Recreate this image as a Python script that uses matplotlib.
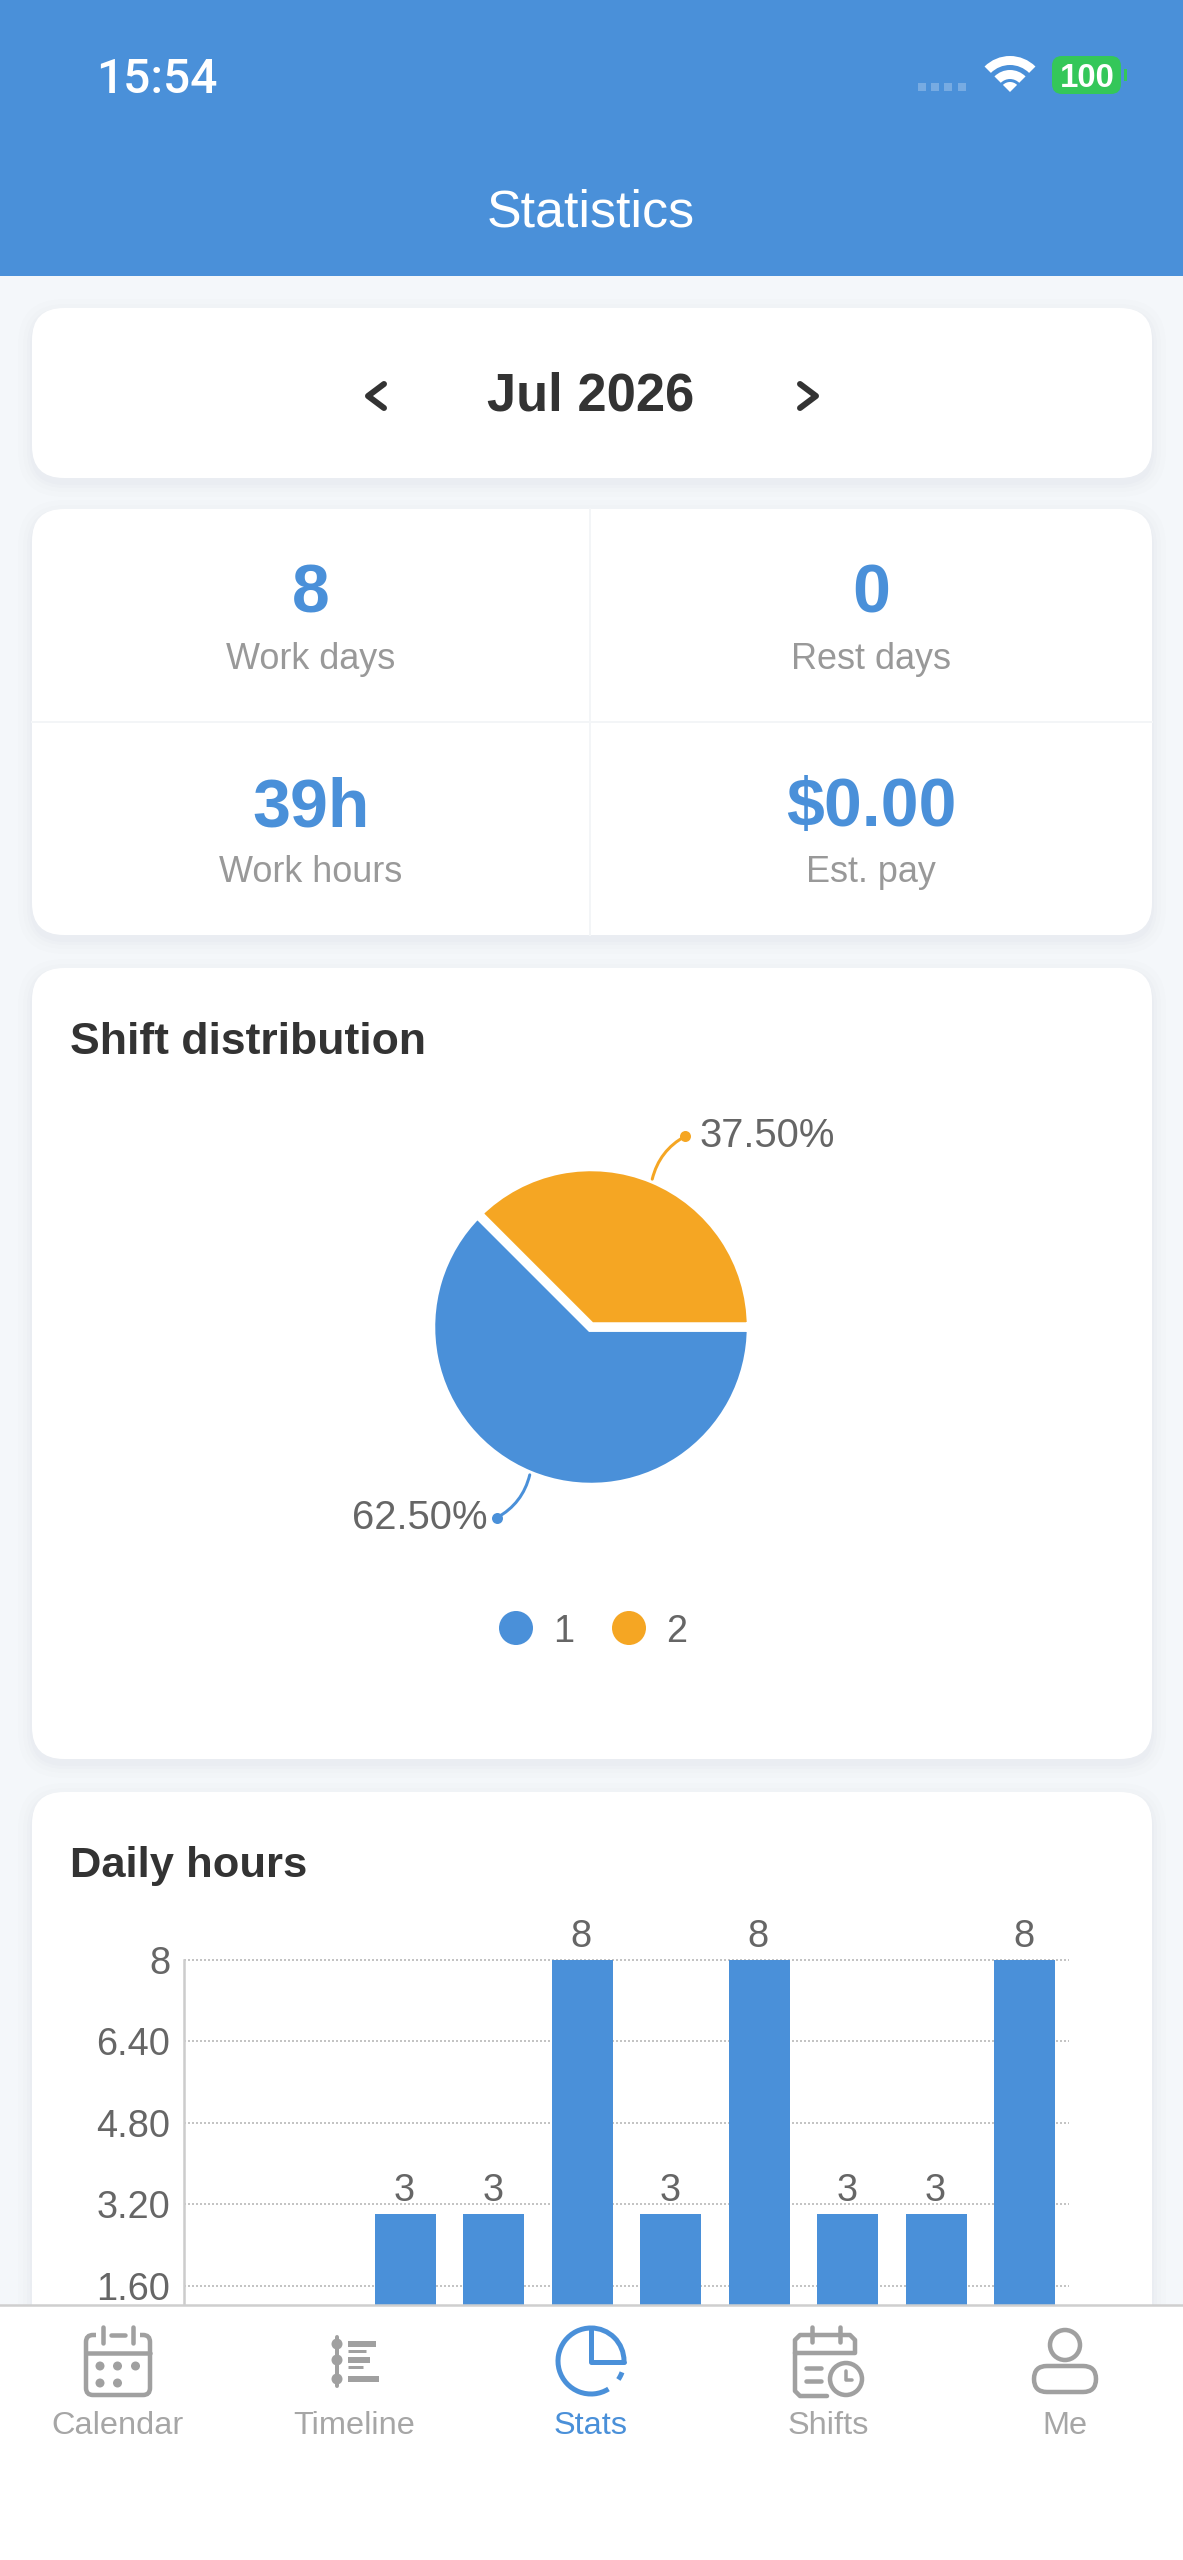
import numpy as np
import matplotlib
matplotlib.use('Agg')
import matplotlib.pyplot as plt
from matplotlib.patches import FancyBboxPatch, Circle, Rectangle, Wedge, Arc

plt.rcParams['font.family'] = ['Liberation Sans', 'DejaVu Sans']

W, H = 1183, 2560
DPI = 100

BLUE = '#4A90D9'
ORANGE = '#F5A623'
BG = '#F4F7FA'
DARK = '#333333'
GREY = '#999999'
AXIS_TEXT = '#666666'
ICON = '#A0A0A0'

# data
month = 'Jul 2026'
stat_values = ['8', '0', '39h', '$0.00']
stat_labels = ['Work days', 'Rest days', 'Work hours', 'Est. pay']
shift_names = ['1', '2']
shift_share = [62.50, 37.50]
daily_hours = [0, 0, 3, 3, 8, 3, 8, 3, 3, 8]
y_ticks = [0, 1.6, 3.2, 4.8, 6.4, 8]
y_tick_labels = ['0', '1.60', '3.20', '4.80', '6.40', '8']
tab_names = ['Calendar', 'Timeline', 'Stats', 'Shifts', 'Me']


def px(v):
    # pixels to points
    return v * 72.0 / DPI


def page_axes(z):
    a = fig.add_axes([0, 0, 1, 1], zorder=z)
    a.set_xlim(0, W)
    a.set_ylim(H, 0)
    a.axis('off')
    a.patch.set_alpha(0)
    return a


def label(a, x, y, s, size, color=DARK, ha='center', weight='normal', family=None):
    # y is the middle of the capitals
    a.text(x, y + 0.36 * size, s, fontsize=px(size), color=color, ha=ha, va='baseline', fontweight=weight,
           family=family)


def card(a, x0, y0, x1, y1, r=32):
    for grow, alpha in [(14, 0.006), (9, 0.008), (5, 0.010), (2, 0.012)]:
        a.add_patch(FancyBboxPatch((x0 - grow, y0 - grow + 5), x1 - x0 + 2 * grow, y1 - y0 + 2 * grow,
                                   boxstyle='round,pad=0,rounding_size=%d' % (r + grow),
                                   fc='#20406a', ec='none', alpha=alpha))
    a.add_patch(FancyBboxPatch((x0, y0), x1 - x0, y1 - y0, boxstyle='round,pad=0,rounding_size=%d' % r,
                               fc='white', ec='none'))


def stroke(a, xs, ys, color=ICON, lw=4.5):
    a.plot(xs, ys, color=color, lw=px(lw), solid_capstyle='round', solid_joinstyle='round')


def outline(a, x0, y0, x1, y1, r, color=ICON, lw=4.5):
    a.add_patch(FancyBboxPatch((x0, y0), x1 - x0, y1 - y0, boxstyle='round,pad=0,rounding_size=%g' % r,
                               fc='none', ec=color, lw=px(lw)))


fig = plt.figure(figsize=(W / DPI, H / DPI), dpi=DPI, facecolor=BG)

# page background, header and cards
ax = page_axes(0)
ax.add_patch(Rectangle((0, 0), W, 276, fc=BLUE, ec='none'))
card(ax, 32, 308, 1152, 478)
card(ax, 32, 509, 1152, 935)
card(ax, 32, 968, 1152, 1759)
card(ax, 32, 1792, 1152, 2700)

# status bar
label(ax, 157, 76, '15:54', 48, color='white', weight='medium', family=['Roboto', 'Liberation Sans'])
for x in [922, 935, 948, 962]:
    ax.add_patch(Rectangle((x - 4, 83), 8, 8, fc='white', ec='none', alpha=0.25))
wx, wy = 1010, 92
ax.add_patch(Wedge((wx, wy), 36, 225, 315, width=9, fc='white', ec='none'))
ax.add_patch(Wedge((wx, wy), 22, 225, 315, width=9, fc='white', ec='none'))
ax.add_patch(Wedge((wx, wy), 10, 225, 315, fc='white', ec='none'))
ax.add_patch(FancyBboxPatch((1052, 56), 69, 38, boxstyle='round,pad=0,rounding_size=10', fc='#34C759', ec='none'))
ax.add_patch(Rectangle((1124, 69), 3, 12, fc='#34C759', ec='none'))
label(ax, 1087, 75, '100', 33, color='white', weight='bold')
label(ax, 591, 208, 'Statistics', 52, color='white')

# month switcher
label(ax, 591, 392, month, 52.5, weight='bold')
stroke(ax, [384, 368, 384], [384, 396, 408], color=DARK, lw=6)
stroke(ax, [800, 816, 800], [384, 396, 408], color=DARK, lw=6)

# summary grid
ax.plot([590.5, 590.5], [509, 935], color='#F3F5F7', lw=px(2))
ax.plot([32, 1152], [722, 722], color='#F3F5F7', lw=px(2))
for i in range(4):
    cx = 311 if i % 2 == 0 else 871
    row = i // 2
    label(ax, cx, [588, 802][row], stat_values[i], 68, color=BLUE, weight='bold')
    label(ax, cx, [656, 869][row], stat_labels[i], 36, color=GREY)

label(ax, 70, 1038, 'Shift distribution', 44.5, ha='left', weight='bold')
label(ax, 70, 1861, 'Daily hours', 43.5, ha='left', weight='bold')

# pie
pie_size = 500
ax_pie = fig.add_axes([(591 - pie_size / 2) / W, 1 - (1327 + pie_size / 2) / H, pie_size / W, pie_size / H], zorder=1)
colors = [BLUE, ORANGE]
wedges, _ = ax_pie.pie(shift_share, colors=colors, startangle=135, radius=160.5,
                       wedgeprops={'edgecolor': 'white', 'linewidth': px(9.5)})
ax_pie.set_xlim(-pie_size / 2, pie_size / 2)
ax_pie.set_ylim(-pie_size / 2, pie_size / 2)
ax_pie.patch.set_alpha(0)
for w, share, c in zip(wedges, shift_share, colors):
    mid = np.deg2rad((w.theta1 + w.theta2) / 2)
    sx, sy = np.sign(np.cos(mid)), np.sign(np.sin(mid))
    x0, y0 = 160 * np.cos(mid), 160 * np.sin(mid)
    x1, y1 = x0 + sx * 33, y0 + sy * 43
    ax_pie.annotate('', xy=(x1, y1), xytext=(x0, y0),
                    arrowprops=dict(arrowstyle='-', color=c, lw=px(3), shrinkA=0, shrinkB=0,
                                    connectionstyle='arc3,rad=-0.22'))
    ax_pie.plot([x1], [y1], 'o', color=c, ms=px(11), mec='none')
    ax_pie.text(x1 + (14 if sx > 0 else -9), y1 + 3 - 14, '%.2f%%' % share, fontsize=px(40), color=AXIS_TEXT,
                ha='left' if sx > 0 else 'right', va='baseline')

# pie legend
for name, c, cx in zip(shift_names, colors, [516, 629]):
    ax.add_patch(Circle((cx, 1628), 17, fc=c, ec='none'))
    label(ax, cx + 48, 1628, name, 38, color=AXIS_TEXT)

# daily hours bars
left, right, top, bottom = 184, 1069, 1960, 2367
ax_bar = fig.add_axes([left / W, 1 - bottom / H, (right - left) / W, (bottom - top) / H], zorder=1)
pos = np.arange(len(daily_hours))
bars = ax_bar.bar(pos, daily_hours, width=0.685, color=BLUE, zorder=3)
ax_bar.set_xlim(-0.5, len(daily_hours) - 0.5)
ax_bar.set_ylim(0, 8)
ax_bar.patch.set_alpha(0)
ax_bar.set_yticks(y_ticks)
ax_bar.set_yticklabels(y_tick_labels, fontsize=px(38), color=AXIS_TEXT)
ax_bar.set_xticks([])
ax_bar.tick_params(axis='y', length=0, pad=px(14))
ax_bar.grid(axis='y', linestyle=(0, (1, 1)), color='#C4C4C4', linewidth=px(2), clip_on=False, zorder=1)
ax_bar.set_axisbelow(True)
for s in ['top', 'right', 'bottom']:
    ax_bar.spines[s].set_visible(False)
ax_bar.spines['left'].set_color('#CCCCCC')
ax_bar.spines['left'].set_linewidth(px(2.5))
for b, v in zip(bars, daily_hours):
    ax_bar.annotate(str(v), (b.get_x() + b.get_width() / 2 - 0.01, v), xytext=(0, px(13)),
                    textcoords='offset points', ha='center', va='baseline', fontsize=px(38), color=AXIS_TEXT)

# tab bar, sits over the charts
tab = page_axes(5)
tab.add_patch(Rectangle((0, 2305), W, H - 2305, fc='white', ec='none'))
tab.plot([0, W], [2305, 2305], color='#CFCFCF', lw=px(2.5))
for name, cx in zip(tab_names, [118, 354, 591, 828, 1065]):
    label(tab, cx, 2422, name, 32.5, color=BLUE if name == 'Stats' else '#A6A6A6')

# calendar icon
outline(tab, 86, 2335, 150, 2395, 7)
tab.add_patch(Rectangle((96, 2330), 44, 9, fc='white', ec='none'))
stroke(tab, [86, 150], [2353, 2353])
stroke(tab, [103, 103], [2327, 2343])
stroke(tab, [133, 133], [2327, 2343])
stroke(tab, [111, 125], [2335, 2335])
for x, y in [(100, 2366), (117.5, 2366), (135.5, 2366), (100, 2383), (117.5, 2383)]:
    tab.add_patch(Circle((x, y), 4.5, fc=ICON, ec='none'))

# timeline icon
stroke(tab, [337, 337], [2337, 2386], lw=4)
for y in [2344, 2360, 2379]:
    tab.add_patch(Circle((337, y), 5.5, fc=ICON, ec='none'))
for x1, y, lw in [(376, 2344, 6), (366, 2351, 3), (370, 2360, 6), (363, 2367, 3), (379, 2379, 6)]:
    tab.plot([348, x1], [y, y], color=ICON, lw=px(lw), solid_capstyle='butt')

# stats icon, y axis is flipped so the angles run clockwise on screen
tab.add_patch(Arc((591, 2361), 66, 66, theta1=270, theta2=360, color=BLUE, lw=px(5)))
tab.add_patch(Arc((591, 2361), 66, 66, theta1=58, theta2=270, color=BLUE, lw=px(5)))
tab.add_patch(Arc((591, 2361), 66, 66, theta1=20, theta2=34, color=BLUE, lw=px(5)))
stroke(tab, [591, 591, 624], [2328, 2362, 2362], color=BLUE, lw=5)

# shifts icon
stroke(tab, [827, 800, 795, 795, 800, 850, 855, 855, 795],
       [2396, 2396, 2391, 2340, 2335, 2335, 2340, 2353, 2353])
stroke(tab, [812, 812], [2327, 2342])
stroke(tab, [840, 840], [2327, 2342])
stroke(tab, [806, 821], [2368, 2368])
stroke(tab, [806, 821], [2381, 2381])
tab.add_patch(Circle((846, 2379), 16, fc='white', ec=ICON, lw=px(4.5)))
stroke(tab, [846, 846, 852], [2371, 2380, 2380], lw=3.5)

# me icon
tab.add_patch(Circle((1065, 2345), 15, fc='none', ec=ICON, lw=px(4.5)))
outline(tab, 1034, 2366, 1096, 2392, 13)

fig.savefig('out.png', dpi=DPI, facecolor=BG)
